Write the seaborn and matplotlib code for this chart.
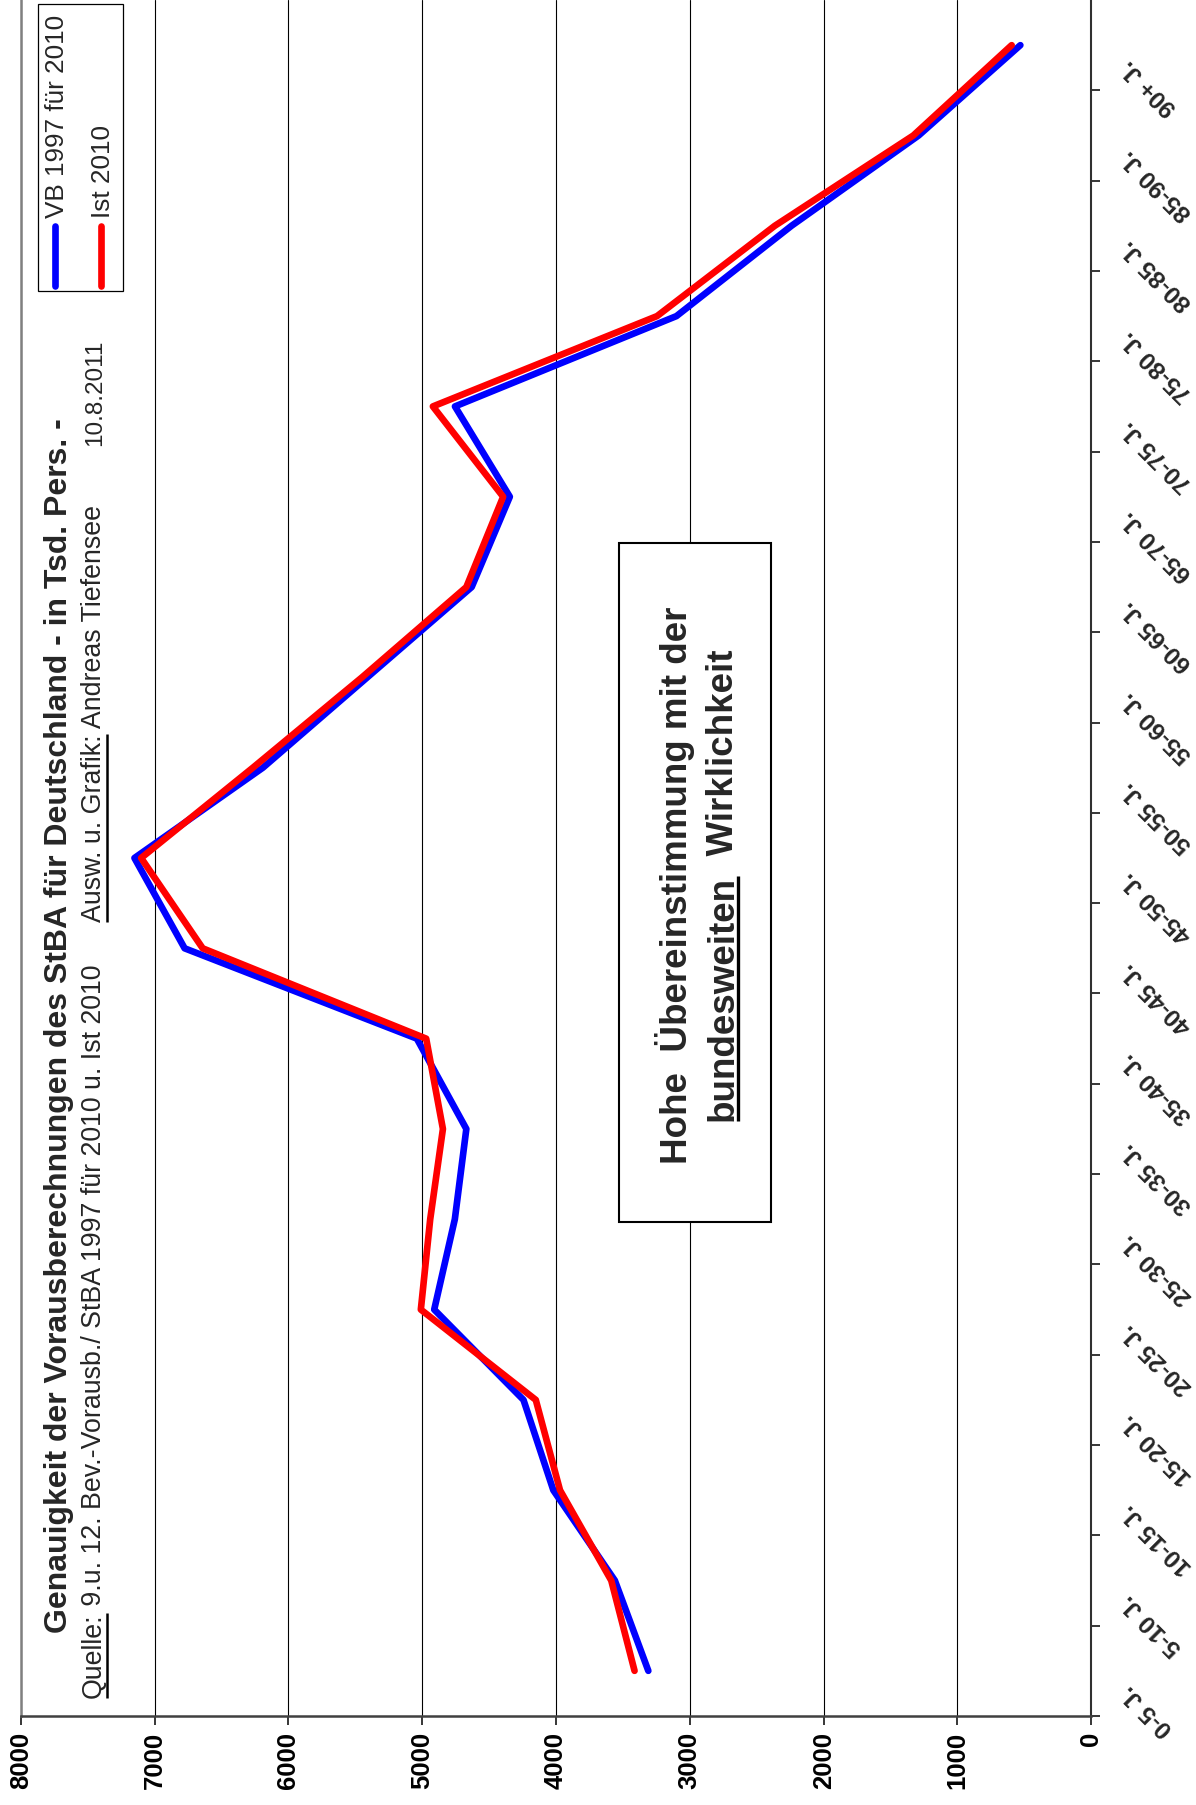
import numpy as np
import pandas as pd
import seaborn as sns
import matplotlib
matplotlib.use("Agg")
import matplotlib.pyplot as plt
from matplotlib.transforms import Affine2D, blended_transform_factory, ScaledTranslation
from matplotlib.lines import Line2D
from matplotlib.patches import Rectangle

# Altersgruppen (Kategorien)
age_groups = ["0-5 J.", "5-10 J.", "10-15 J.", "15-20 J.", "20-25 J.", "25-30 J.",
              "30-35 J.", "35-40 J.", "40-45 J.", "45-50 J.", "50-55 J.", "55-60 J.",
              "60-65 J.", "65-70 J.", "70-75 J.", "75-80 J.", "80-85 J.", "85-90 J.",
              "90+ J."]

# Bevölkerung in Tsd. Personen
vb_1997 = [3310, 3560, 4020, 4243, 4910, 4756, 4670, 5040, 6775, 7150,
           6190, 5410, 4630, 4345, 4755, 3100, 2240, 1290, 530]
ist_2010 = [3413, 3587, 3970, 4151, 5010, 4940, 4845, 4970, 6640, 7100,
            6265, 5450, 4670, 4395, 4920, 3245, 2365, 1330, 595]

series_names = ["VB 1997 für 2010", "Ist 2010"]
series_colors = ["#0000FF", "#FF0000"]
value_ticks = [0, 1000, 2000, 3000, 4000, 5000, 6000, 7000, 8000]

sns.set_style("white")
plt.rcParams["font.family"] = ["Liberation Sans", "DejaVu Sans"]

W, H = 1196, 1805
fig = plt.figure(figsize=(W / 100, H / 100), dpi=100)
# pixel coordinates measured from the top-left corner of the canvas
px = Affine2D().scale(1, -1).translate(0, H)

ax_l, ax_r, ax_t, ax_b = 20.7, 1091.3, 0.0, 1716.0
ax = fig.add_axes([ax_l / W, 1 - ax_b / H, (ax_r - ax_l) / W, (ax_b - ax_t) / H])

pos = list(range(len(age_groups)))
df = pd.DataFrame({
    "pos": pos * 2,
    "Tsd": vb_1997 + ist_2010,
    "Reihe": [series_names[0]] * len(pos) + [series_names[1]] * len(pos),
})
sns.lineplot(data=df, x="Tsd", y="pos", hue="Reihe", hue_order=series_names,
             palette=dict(zip(series_names, series_colors)), orient="y",
             estimator=None, sort=False, lw=4.8, legend=False,
             solid_capstyle="round", ax=ax)

ax.set_xlim(8000, 0)
ax.set_ylim(-0.5, len(age_groups) - 0.5)
ax.set_xlabel("")
ax.set_ylabel("")

ax.set_xticks(value_ticks)
ax.set_xticklabels([str(v) for v in value_ticks], rotation=90, fontweight="bold")
ax.tick_params(axis="x", direction="out", length=6.5, width=1.1, pad=5,
               labelsize=18.5, bottom=True, colors="black")

# category boundary ticks (the top boundary coincides with the canvas edge)
ax.set_yticks(np.arange(-0.5, len(age_groups) - 1, 1.0))
ax.yaxis.tick_right()
ax.tick_params(axis="y", direction="out", length=6.5, width=1.1, right=True,
               left=False, labelright=False, labelleft=False, colors="black")

ax.grid(axis="x", color="black", lw=0.8)
ax.grid(axis="y", visible=False)

ax.spines["top"].set_visible(False)
ax.spines["left"].set_color("#808080")
ax.spines["left"].set_linewidth(1.8)
ax.spines["bottom"].set_color("#404040")
ax.spines["bottom"].set_linewidth(1.8)
ax.spines["right"].set_color("#303030")
ax.spines["right"].set_linewidth(1.5)

# slanted category labels right of the value-zero axis
cat_tr = blended_transform_factory(ax.transAxes, ax.transData) + \
    ScaledTranslation(0.34, -0.18, fig.dpi_scale_trans)
for p, lab in zip(pos, age_groups):
    ax.text(1.0, p, lab, transform=cat_tr, rotation=135, rotation_mode="anchor",
            ha="right", va="center", fontsize=17.5, fontweight="bold", clip_on=False)

fig.canvas.draw()
renderer = fig.canvas.get_renderer()


def text_run(pieces, x_base, y_start, size, weight, ul_off, ul_lw, center=False):
    """Write vertical text pieces upward from y_start; underline flagged pieces."""
    made = []
    for txt, ul in pieces:
        t = fig.text(x_base, 0, txt, transform=px, rotation=90, rotation_mode="anchor",
                     ha="left", va="baseline", fontsize=size, fontweight=weight, zorder=5)
        made.append((t, ul, t.get_window_extent(renderer).height))
    total = sum(m[2] for m in made)
    y = y_start + total / 2 if center else y_start
    for t, ul, length in made:
        t.set_position((x_base, y))
        if ul:
            fig.add_artist(Line2D([x_base + ul_off] * 2, [y, y - length], transform=px,
                                  color="black", lw=ul_lw, solid_capstyle="butt", zorder=5))
        y -= length


# title and source line
text_run([("Genauigkeit der Vorausberechnungen des StBA für Deutschland - in Tsd. Pers. -", False)],
         67, 1633, 23, "bold", 0, 0)
text_run([("Quelle:", True), (" 9.u. 12. Bev.-Vorausb./ StBA 1997 für 2010 u. Ist 2010", False)],
         101, 1698, 19.3, "normal", 6, 1.8)
text_run([("Ausw. u. Grafik:", True), (" Andreas Tiefensee", False)],
         101, 922, 19.3, "normal", 6, 1.8)
text_run([("10.8.2011", False)], 101, 393, 17.5, "normal", 0, 0, center=True)

# legend
fig.add_artist(Rectangle((38, 3.5), 85, 287.5, transform=px, facecolor="white",
                         edgecolor="black", lw=0.9, zorder=3))
for xc, name, col in zip([55, 101], series_names, series_colors):
    fig.add_artist(Line2D([xc, xc], [286, 226], transform=px, color=col, lw=4.8,
                          solid_capstyle="round", zorder=4))
    fig.text(xc + 9, 218, name, transform=px, rotation=90, rotation_mode="anchor",
             ha="left", va="baseline", fontsize=18.8, zorder=4)

# annotation box
fig.add_artist(Rectangle((619, 543), 152, 679, transform=px, facecolor="white",
                         edgecolor="black", lw=1.5, zorder=3))
text_run([("Hohe  Übereinstimmung mit der", False)], 687, 885, 26.5, "bold", 0, 0, center=True)
text_run([("bundesweiten", True), ("  Wirklichkeit", False)], 733, 885, 26.5, "bold", 4.5, 2.4,
         center=True)

fig.savefig("out.png", dpi=100)
